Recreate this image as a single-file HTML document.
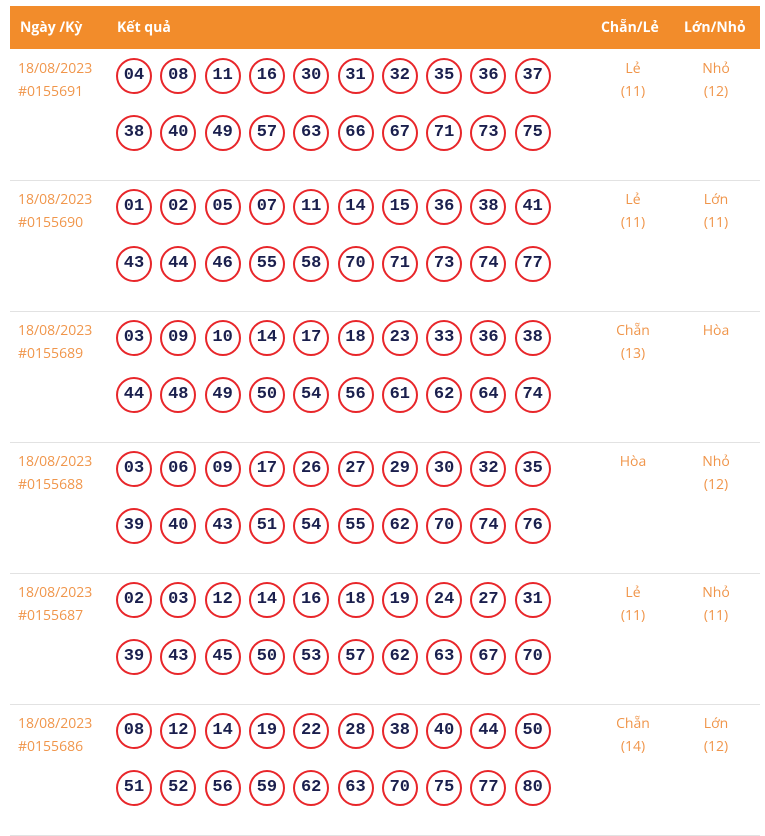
<!DOCTYPE html>
<html><head><meta charset="utf-8"><style>
body{margin:0;width:765px;height:809px;background:#fff;position:relative;overflow:hidden;font-family:"Open Sans","DejaVu Sans","Liberation Sans",sans-serif}
.hd{position:absolute;left:10px;top:6px;width:750px;height:43px;background:#f28c2b;color:#fff;font-weight:bold;font-size:14px}
.hd span{position:absolute;top:12px}
.row{position:absolute;left:10px;width:750px;height:131px;border-bottom:1px solid #e2e2e2}
.d{position:absolute;left:8px;color:#f0954a;font-size:14px;line-height:23px}
.c{position:absolute;color:#f0954a;font-size:14px;line-height:23px;text-align:center;width:80px}
.b{position:absolute;width:32px;height:32px;border:2px solid #e8262a;border-radius:50%;text-align:center;line-height:32px;font-family:"Liberation Mono",monospace;font-weight:bold;font-size:17px;color:#1a1f4d}
</style></head><body>
<div class="hd"><span style="left:10px">Ngày /Kỳ</span><span style="left:107px">Kết quả</span><span style="left:591px">Chẵn/Lẻ</span><span style="left:674px">Lớn/Nhỏ</span></div>
<div id="r"></div>
<script>
var data=[
["0155691","04 08 11 16 30 31 32 35 36 37 38 40 49 57 63 66 67 71 73 75","Lẻ","(11)","Nhỏ","(12)"],
["0155690","01 02 05 07 11 14 15 36 38 41 43 44 46 55 58 70 71 73 74 77","Lẻ","(11)","Lớn","(11)"],
["0155689","03 09 10 14 17 18 23 33 36 38 44 48 49 50 54 56 61 62 64 74","Chẵn","(13)","Hòa",""],
["0155688","03 06 09 17 26 27 29 30 32 35 39 40 43 51 54 55 62 70 74 76","Hòa","","Nhỏ","(12)"],
["0155687","02 03 12 14 16 18 19 24 27 31 39 43 45 50 53 57 62 63 67 70","Lẻ","(11)","Nhỏ","(11)"],
["0155686","08 12 14 19 22 28 38 40 44 50 51 52 56 59 62 63 70 75 77 80","Chẵn","(14)","Lớn","(12)"]];
var h="";
data.forEach(function(r,i){
var t=49+i*131;
h+='<div class="row" style="top:'+t+'px"><div class="d" style="top:8px">18/08/2023<br>#'+r[0]+'</div>';
r[1].split(" ").forEach(function(n,j){
var x=106+(j%10)*44.3,y=9+Math.floor(j/10)*57;
h+='<div class="b" style="left:'+x+'px;top:'+y+'px">'+n+'</div>';});
h+='<div class="c" style="left:583px;top:8px">'+r[2]+'<br>'+r[3]+'</div>';
h+='<div class="c" style="left:666px;top:8px">'+r[4]+'<br>'+r[5]+'</div></div>';
});
document.getElementById("r").innerHTML=h;
</script>
</body></html>
